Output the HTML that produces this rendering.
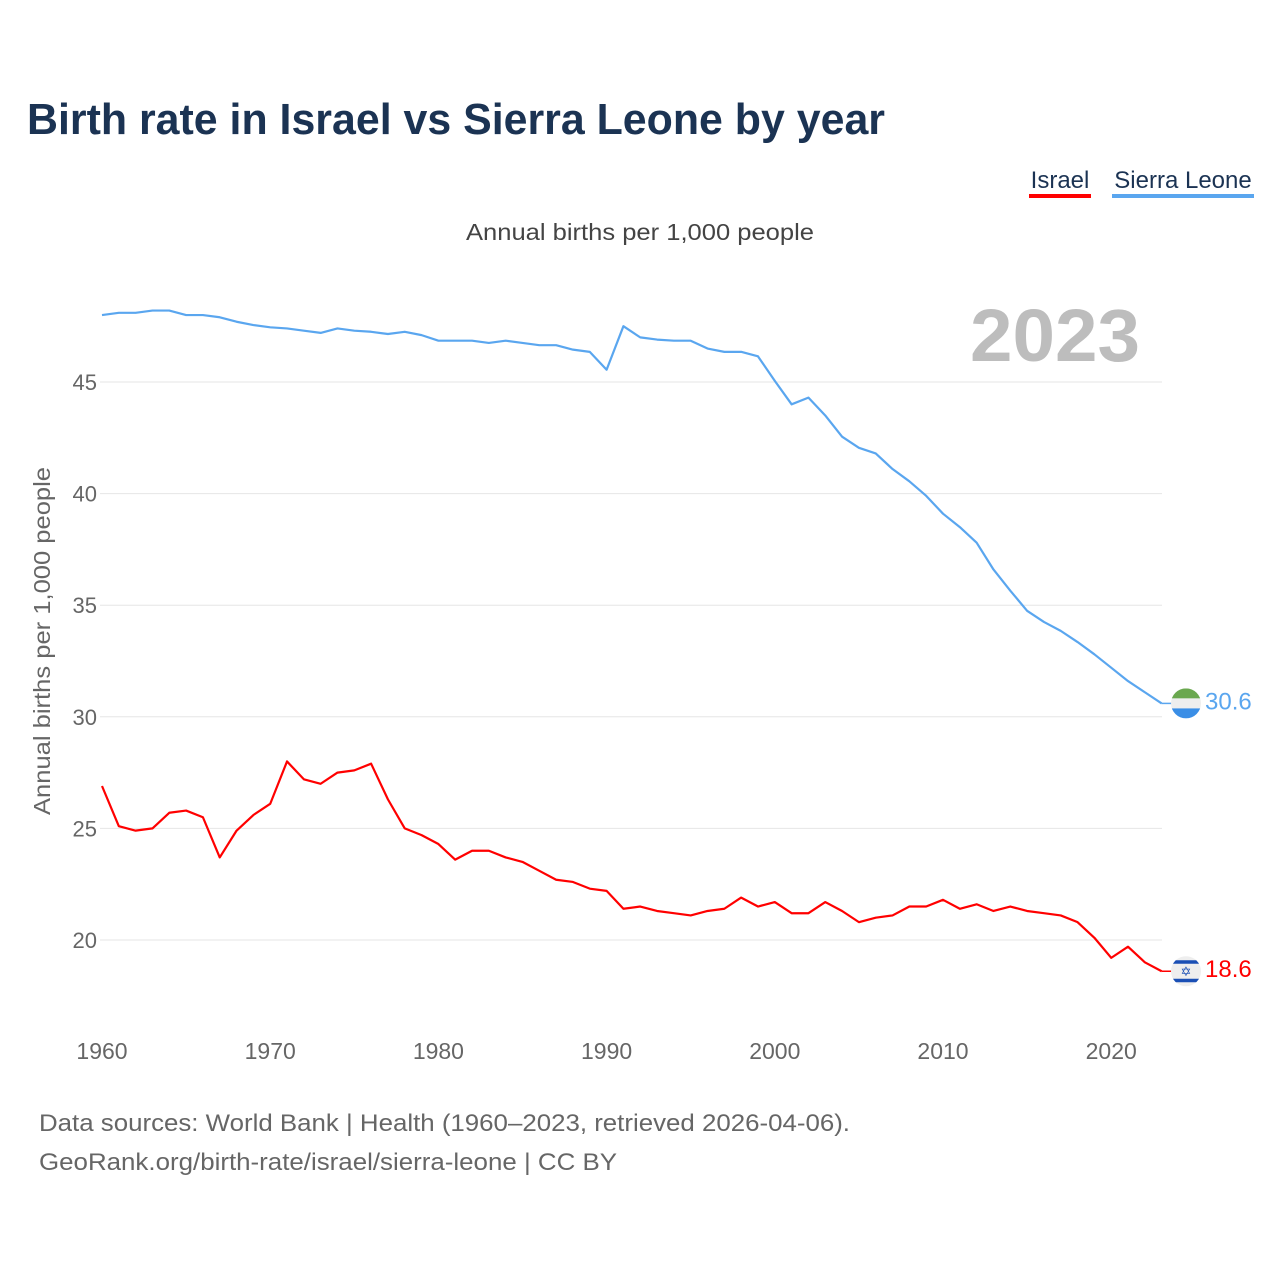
<!DOCTYPE html>
<html><head><meta charset="utf-8">
<style>
body{margin:0;background:#fff;font-family:"Liberation Sans",sans-serif;}
svg text{font-family:"Liberation Sans",sans-serif;}
</style></head>
<body>
<svg id="chart" width="1280" height="1280" xmlns="http://www.w3.org/2000/svg">
<text x="27" y="134" font-size="44" font-weight="bold" fill="#1b3353" textLength="858" lengthAdjust="spacingAndGlyphs">Birth rate in Israel vs Sierra Leone by year</text>
<g>
<text x="1060" y="188" font-size="24" fill="#1b3353" text-anchor="middle">Israel</text>
<rect x="1029" y="194" width="62" height="4" fill="#ff0000"/></g>
<g>
<text x="1183" y="188" font-size="24" fill="#1b3353" text-anchor="middle">Sierra Leone</text>
<rect x="1112" y="194" width="142" height="4" fill="#5aa6ef"/></g>
<text x="466" y="240" font-size="23" fill="#444" textLength="348" lengthAdjust="spacingAndGlyphs">Annual births per 1,000 people</text>
<text x="1140" y="361" font-size="74" font-weight="bold" fill="#bdbdbd" text-anchor="end" textLength="170" lengthAdjust="spacingAndGlyphs">2023</text>
<text transform="translate(50,641) rotate(-90)" font-size="23" fill="#666" text-anchor="middle" textLength="348" lengthAdjust="spacingAndGlyphs">Annual births per 1,000 people</text>
<g id="grid"></g><g id="xticks"></g><g id="lines"></g>
<text x="39" y="1131" font-size="24" fill="#666" textLength="811" lengthAdjust="spacingAndGlyphs">Data sources: World Bank | Health (1960–2023, retrieved 2026-04-06).</text>
<text x="39" y="1170" font-size="24" fill="#666" textLength="578" lengthAdjust="spacingAndGlyphs">GeoRank.org/birth-rate/israel/sierra-leone | CC BY</text>
</svg>
<script>
const years=[];for(let y=1960;y<=2023;y++)years.push(y);
const israel=[26.9,25.1,24.9,25.0,25.7,25.8,25.5,23.7,24.9,25.6,26.1,28.0,27.2,27.0,27.5,27.6,27.9,26.3,25.0,24.7,24.3,23.6,24.0,24.0,23.7,23.5,23.1,22.7,22.6,22.3,22.2,21.4,21.5,21.3,21.2,21.1,21.3,21.4,21.9,21.5,21.7,21.2,21.2,21.7,21.3,20.8,21.0,21.1,21.5,21.5,21.8,21.4,21.6,21.3,21.5,21.3,21.2,21.1,20.8,20.1,19.2,19.7,19.0,18.6];
const sierra=[48.0,48.1,48.1,48.2,48.2,48.0,48.0,47.9,47.7,47.55,47.45,47.4,47.3,47.2,47.4,47.3,47.25,47.15,47.25,47.1,46.85,46.85,46.85,46.75,46.85,46.75,46.65,46.65,46.45,46.35,45.55,47.5,47.0,46.9,46.85,46.85,46.5,46.35,46.35,46.15,45.05,44.0,44.3,43.5,42.55,42.05,41.8,41.1,40.55,39.9,39.1,38.5,37.8,36.6,35.65,34.75,34.25,33.85,33.35,32.8,32.2,31.6,31.1,30.6];
const yTicks=[20,25,30,35,40,45];
const xTicks=[1960,1970,1980,1990,2000,2010,2020];
const NS='http://www.w3.org/2000/svg';
const X=y=>102+(y-1960)*16.82;
const Y=v=>382+(45-v)*22.32;
function mk(t,a,p){const e=document.createElementNS(NS,t);for(const k in a)e.setAttribute(k,a[k]);p.appendChild(e);return e;}
const grid=document.getElementById('grid');
yTicks.forEach(v=>{
 const l=mk('line',{x1:100,x2:1162,y1:Y(v),y2:Y(v),stroke:'#e6e6e6','stroke-width':1},grid);
 
 
 const t=mk('text',{x:97,y:Y(v)+8,'font-size':22,fill:'#666','text-anchor':'end'},grid);
 t.textContent=v;
 
 
});
const xt=document.getElementById('xticks');
xTicks.forEach(v=>{
 const t=mk('text',{x:X(v),y:1059,'font-size':23,fill:'#666','text-anchor':'middle'},xt);
 t.textContent=v;
 
 
});
const lines=document.getElementById('lines');
function series(d,col,name){
 const p=mk('polyline',{points:d.map((v,i)=>X(years[i])+','+Y(v)).join(' '),fill:'none',stroke:col,'stroke-width':2.2,'stroke-linejoin':'round'},lines);
 
 
 const last=d[d.length-1];const ly=Y(last);
 mk('line',{x1:X(2023),x2:1172,y1:ly,y2:ly,stroke:col,'stroke-width':1.5},lines);
 const lab=mk('text',{x:1205,y:ly+6,'font-size':24,fill:col},lines);
 lab.textContent=last.toFixed(1);
 
 
 return ly;
}
const sy=series(sierra,'#5aa6ef','sierra-leone');
const iy=series(israel,'#ff0000','israel');
const fs=mk('g',{},lines);


const c1=mk('clipPath',{id:'c1'},fs);mk('circle',{cx:1186,cy:sy,r:15},c1);
mk('rect',{x:1171,y:sy-15,width:30,height:10,fill:'#6aa84f','clip-path':'url(#c1)'},fs);
mk('rect',{x:1171,y:sy-5,width:30,height:10,fill:'#eeeeee','clip-path':'url(#c1)'},fs);
mk('rect',{x:1171,y:sy+5,width:30,height:10,fill:'#3a8ee6','clip-path':'url(#c1)'},fs);
const fi=mk('g',{},lines);


mk('circle',{cx:1186,cy:iy,r:15,fill:'#eeeeee'},fi);
const c2=mk('clipPath',{id:'c2'},fi);mk('circle',{cx:1186,cy:iy,r:15},c2);
mk('rect',{x:1171,y:iy-11,width:30,height:3.5,fill:'#1a4fb5','clip-path':'url(#c2)'},fi);
mk('rect',{x:1171,y:iy+7.5,width:30,height:3.5,fill:'#1a4fb5','clip-path':'url(#c2)'},fi);
const st=mk('text',{x:1186,y:iy+5,'font-size':13,fill:'#1a4fb5','text-anchor':'middle'},fi);st.textContent='✡';
</script>
</body></html>
